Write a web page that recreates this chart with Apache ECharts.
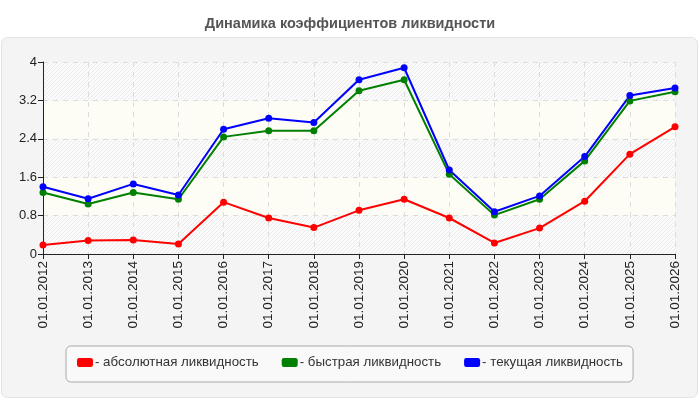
<!DOCTYPE html>
<html>
<head>
  <meta charset="UTF-8">
  <script src="https://cdn.jsdelivr.net/npm/echarts@6/dist/echarts.min.js"></script>
  <style>
    html, body {margin: 0; padding: 0; background: #fff;}
    #chart {width: 700px; height: 400px;}
  </style>
</head>
<body>
<div id="chart"></div>
<script type="text/javascript">
  var years = ['01.01.2012','01.01.2013','01.01.2014','01.01.2015','01.01.2016','01.01.2017','01.01.2018',
               '01.01.2019','01.01.2020','01.01.2021','01.01.2022','01.01.2023','01.01.2024','01.01.2025','01.01.2026'];
  var absolute = [0.19, 0.28, 0.29, 0.21, 1.08, 0.75, 0.55, 0.91, 1.14, 0.75, 0.23, 0.54, 1.10, 2.08, 2.65];
  var quick    = [1.28, 1.04, 1.28, 1.14, 2.44, 2.57, 2.57, 3.40, 3.63, 1.66, 0.81, 1.14, 1.94, 3.19, 3.38];
  var current  = [1.40, 1.15, 1.46, 1.23, 2.60, 2.83, 2.74, 3.63, 3.88, 1.75, 0.88, 1.21, 2.03, 3.30, 3.46];
  var names = ['абсолютная ликвидность', 'быстрая ликвидность', 'текущая ликвидность'];
  var colors = ['#ff0000', '#008000', '#0000ff'];

  // fine diagonal hatch for the plot bands
  function hatch() {
    var c = document.createElement('canvas');
    c.width = c.height = 4;
    var g = c.getContext('2d');
    g.fillStyle = '#fbfbfb';
    g.fillRect(0, 0, 4, 4);
    g.strokeStyle = '#ebebeb';
    g.lineWidth = 1;
    g.beginPath();
    g.moveTo(0, 4); g.lineTo(4, 0);
    g.moveTo(-1, 1); g.lineTo(1, -1);
    g.moveTo(3, 5); g.lineTo(5, 3);
    g.stroke();
    return {image: c, repeat: 'repeat'};
  }
  var hatched = hatch();

  function line(i, data) {
    return {
      name: names[i],
      type: 'line',
      data: data,
      color: colors[i],
      symbol: 'circle',
      symbolSize: 7,
      lineStyle: {width: 2},
      animation: false
    };
  }

  var myChart = echarts.init(document.getElementById('chart'));
  var option = {
    backgroundColor: '#fff',
    animation: false,
    graphic: [{
      type: 'rect',
      z: -10,
      shape: {x: 1.5, y: 37.5, width: 696, height: 360, r: 6},
      style: {fill: '#f4f4f4', stroke: '#e2e2e2', lineWidth: 1}
    }],
    title: {
      text: 'Динамика коэффициентов ликвидности',
      left: 'center',
      top: 11,
      textStyle: {fontFamily: 'Liberation Sans', fontSize: 14.5, fontWeight: 'bold', color: '#555'}
    },
    legend: {
      left: 66,
      top: 346,
      padding: [10, 10, 13, 11],
      itemGap: 23,
      itemWidth: 16,
      itemHeight: 9,
      icon: 'roundRect',
      backgroundColor: '#f9f9f9',
      borderColor: '#aaa',
      borderWidth: 1,
      borderRadius: 5,
      formatter: function (n) { return '- ' + n; },
      textStyle: {fontFamily: 'Liberation Sans', fontSize: 13.3, color: '#333', padding: [0, 0, 0, -3]},
      data: names
    },
    grid: {left: 43, right: 25, top: 62, bottom: 146},
    xAxis: {
      type: 'category',
      data: years,
      boundaryGap: false,
      axisLine: {lineStyle: {color: '#222', width: 1}},
      axisTick: {alignWithLabel: true, length: 5, lineStyle: {color: '#222'}},
      axisLabel: {rotate: 90, margin: 7, fontFamily: 'Liberation Sans', fontSize: 13.5, color: '#222'},
      splitLine: {show: true, lineStyle: {color: '#dcdcdc', type: [5, 5]}}
    },
    yAxis: {
      type: 'value',
      min: 0,
      max: 4,
      interval: 0.8,
      axisLine: {show: true, lineStyle: {color: '#222', width: 1}},
      axisTick: {show: true, length: 5, lineStyle: {color: '#222'}},
      axisLabel: {margin: 6, fontFamily: 'Liberation Sans', fontSize: 13, color: '#222',
        formatter: function (v) { return String(Math.round(v * 10) / 10); }},
      splitLine: {lineStyle: {color: '#dcdcdc', type: [5, 5]}},
      splitArea: {show: true, areaStyle: {color: [hatched, '#fdfdf6']}}
    },
    series: [
      line(0, absolute),
      line(1, quick),
      line(2, current)
    ]
  };
  myChart.setOption(option, true);
</script>
</body>
</html>
